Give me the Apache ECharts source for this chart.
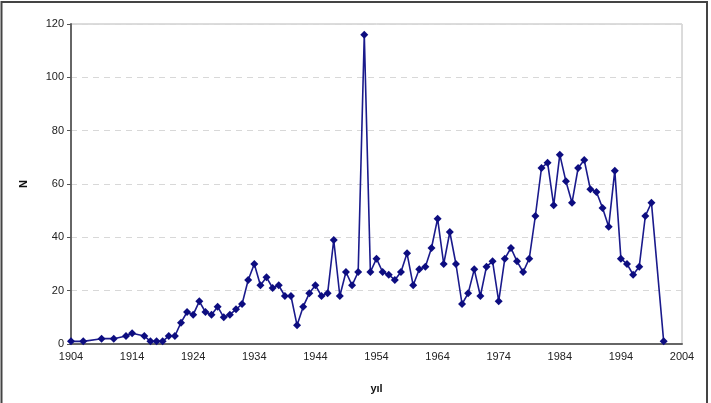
<!DOCTYPE html>
<html>
<head>
<meta charset="utf-8">
<script src="https://cdn.jsdelivr.net/npm/echarts@6/dist/echarts.min.js"></script>
<style>
html,body{margin:0;padding:0;background:#fff;}
#c{width:711px;height:403px;}
</style>
</head>
<body>
<div id="c"></div>
<script>
const years = [1904,1906,1909,1911,1913,1914,1916,1917,1918,1919,1920,1921,1922,1923,1924,1925,1926,1927,1928,1929,1930,1931,1932,1933,1934,1935,1936,1937,1938,1939,1940,1941,1942,1943,1944,1945,1946,1947,1948,1949,1950,1951,1952,1953,1954,1955,1956,1957,1958,1959,1960,1961,1962,1963,1964,1965,1966,1967,1968,1969,1970,1971,1972,1973,1974,1975,1976,1977,1978,1979,1980,1981,1982,1983,1984,1985,1986,1987,1988,1989,1990,1991,1992,1993,1994,1995,1996,1997,1998,1999,2001];
const counts = [1,1,2,2,3,4,3,1,1,1,3,3,8,12,11,16,12,11,14,10,11,13,15,24,30,22,25,21,22,18,18,7,14,19,22,18,19,39,18,27,22,27,116,27,32,27,26,24,27,34,22,28,29,36,47,30,42,30,15,19,28,18,29,31,16,32,36,31,27,32,48,66,68,52,71,61,53,66,69,58,57,51,44,65,32,30,26,29,48,53,1];
const xTickLabels = [1904,1914,1924,1934,1944,1954,1964,1974,1984,1994,2004];
const yTickLabels = [0,20,40,60,80,100,120];
const xName = 'yıl';
const yName = 'N';

const chart = echarts.init(document.getElementById('c'), null, {renderer:'canvas'});
const labelFont = {fontFamily:'Liberation Sans, Arial, sans-serif', fontSize:11, color:'#222'};
chart.setOption({
  animation:false,
  backgroundColor:'#fff',
  graphic:[{type:'rect', shape:{x:1.5,y:2,width:705.5,height:440}, style:{fill:'none', stroke:'#444', lineWidth:2}, z:100}],
  grid:{left:71, right:29, top:24, bottom:59, show:true, borderColor:'#b8b8b8', borderWidth:1, backgroundColor:'#fff'},
  xAxis:{
    type:'value', min:xTickLabels[0], max:xTickLabels[xTickLabels.length-1],
    name:xName, nameLocation:'middle', nameGap:39,
    nameTextStyle:{fontFamily:'Liberation Sans, Arial, sans-serif', fontSize:11, fontWeight:'bold', color:'#111'},
    axisLine:{show:true, onZero:false, lineStyle:{color:'#666', width:2}},
    axisTick:{show:false},
    axisLabel:Object.assign({customValues:xTickLabels, margin:7, formatter:v=>String(v)}, labelFont),
    splitLine:{show:false}
  },
  yAxis:{
    type:'value', min:yTickLabels[0], max:yTickLabels[yTickLabels.length-1], interval:20,
    name:yName, nameLocation:'middle', nameGap:42, nameRotate:90,
    nameTextStyle:{fontFamily:'Liberation Sans, Arial, sans-serif', fontSize:11, fontWeight:'bold', color:'#111'},
    axisLine:{show:true, lineStyle:{color:'#666', width:2}},
    axisTick:{show:true, length:4, inside:false, lineStyle:{color:'#555', width:1}},
    axisLabel:Object.assign({margin:7}, labelFont),
    splitLine:{show:true, lineStyle:{color:'#d8d8d8', type:[6,5], width:1}}
  },
  series:[{
    type:'line',
    data: years.map((y,i)=>[y, counts[i]]),
    symbol:'diamond', symbolSize:8,
    lineStyle:{color:'#1a1a8c', width:1.6},
    itemStyle:{color:'#0d0d80'},
    clip:false
  }]
});
</script>
</body>
</html>
